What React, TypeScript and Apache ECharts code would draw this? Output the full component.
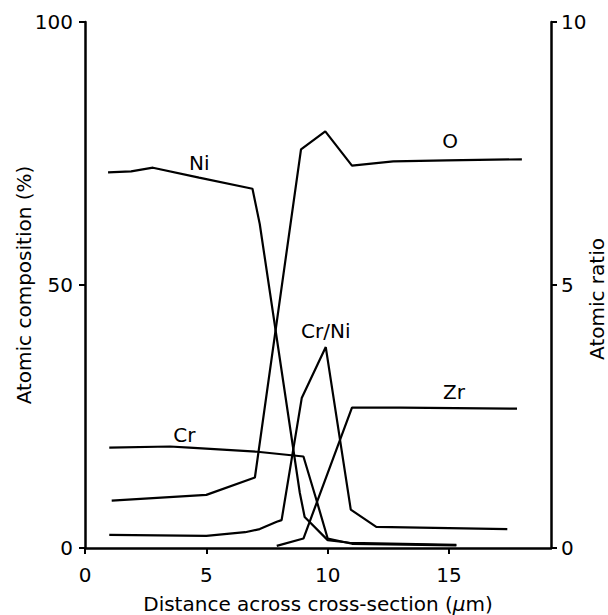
import React, { useEffect, useRef } from "react";
import * as echarts from "echarts";

// Atomic composition (%) vs distance (µm)
const niData: number[][] = [
  [0.95, 71.4], [1.9, 71.6], [2.8, 72.3], [4.7, 70.4], [6.9, 68.3], [7.2, 61.6],
  [8.85, 10.5], [9.05, 5.9], [10, 1.5], [10.9, 1.0], [15.3, 0.6],
];
const oData: number[][] = [
  [1.1, 9.0], [5, 10.1], [7, 13.4], [8.9, 75.8], [9.9, 79.2], [11, 72.7],
  [12.7, 73.5], [14.9, 73.7], [18, 73.9],
];
const crData: number[][] = [
  [1, 19.1], [3.5, 19.3], [4.3, 19.1], [7.1, 18.3], [9, 17.4], [9.5, 9.7],
  [10, 1.8], [11, 0.8], [15.3, 0.5],
];
const zrData: number[][] = [
  [7.9, 0.4], [9, 1.8], [11, 26.7], [13, 26.7], [17.8, 26.5],
];
// Atomic ratio (right axis)
const crNiRatio: number[][] = [
  [1, 0.25], [5, 0.23], [6.6, 0.3], [7.2, 0.36], [7.9, 0.5], [8.1, 0.53],
  [8.93, 2.85], [9.92, 3.82], [10.95, 0.73], [12, 0.4], [17.4, 0.36],
];
// Curve labels [x, y(left axis), text]
const curveLabels: (number | string)[][] = [
  [4.71, 73.1, "Ni"],
  [15.04, 77.3, "O"],
  [4.09, 21.4, "Cr"],
  [9.92, 41.2, "Cr/Ni"],
  [15.2, 29.6, "Zr"],
];
const xTicks = [0, 5, 10, 15];
const leftTicks = [0, 50, 100];
const rightTicks = [0, 5, 10];

const FONT = "DejaVu Sans";
const BLACK = "#000";

export default function App() {
  const ref = useRef<HTMLDivElement>(null);
  useEffect(() => {
    const chart = echarts.init(ref.current!, null, { renderer: "svg" });
    const lineStyle = { color: BLACK, width: 2.2 };
    const mkLine = (name: string, data: number[][], yAxisIndex = 0) => ({
      type: "line",
      name,
      data,
      yAxisIndex,
      symbol: "none",
      lineStyle,
      silent: true,
      z: 3,
    });
    const axisCommon = {
      axisLine: { show: true, lineStyle: { color: BLACK, width: 2.5 } },
      axisTick: { show: true, length: 6, lineStyle: { color: BLACK, width: 2 } },
      splitLine: { show: false },
      nameMoveOverlap: false,
      nameTextStyle: { fontFamily: FONT, fontSize: 20, lineHeight: 22, color: BLACK },
    };
    chart.setOption({
      animation: false,
      backgroundColor: "#fff",
      grid: { left: 85, right: 57, top: 22, bottom: 67, containLabel: false, outerBoundsMode: "none" },
      xAxis: {
        type: "value",
        min: 0,
        max: 19.2,
        interval: 5,
        ...axisCommon,
        axisTick: { ...axisCommon.axisTick, customValues: xTicks },
        axisLabel: {
          customValues: xTicks,
          fontFamily: FONT,
          fontSize: 20,
          color: BLACK,
          margin: 17,
        },
        name: "Distance across cross-section ({i|μ}m)",
        nameLocation: "middle",
        nameGap: 45,
        nameTextStyle: {
          fontFamily: FONT,
          fontSize: 20,
          lineHeight: 22,
          color: BLACK,
          rich: { i: { fontFamily: FONT, fontSize: 20, lineHeight: 22, fontStyle: "italic", color: BLACK } },
        },
      },
      yAxis: [
        {
          type: "value",
          position: "left",
          min: 0,
          max: 100,
          interval: 50,
          ...axisCommon,
          axisTick: { ...axisCommon.axisTick, customValues: leftTicks },
          axisLabel: { customValues: leftTicks, fontFamily: FONT, fontSize: 20, color: BLACK, margin: 12 },
          name: "Atomic composition (%)",
          nameLocation: "middle",
          nameRotate: 90,
          nameGap: 50,
        },
        {
          type: "value",
          position: "right",
          min: 0,
          max: 10,
          interval: 5,
          ...axisCommon,
          axisTick: { ...axisCommon.axisTick, customValues: rightTicks },
          axisLabel: { customValues: rightTicks, fontFamily: FONT, fontSize: 20, color: BLACK, margin: 10 },
          name: "Atomic ratio",
          nameLocation: "middle",
          nameRotate: 90,
          nameGap: 35,
          nameTextStyle: { fontFamily: FONT, fontSize: 20, lineHeight: 22, color: BLACK, padding: [0, 28, 0, 0] },
        },
      ],
      series: [
        mkLine("Ni", niData),
        mkLine("O", oData),
        mkLine("Cr", crData),
        mkLine("Zr", zrData),
        mkLine("Cr/Ni", crNiRatio, 1),
        {
          type: "scatter",
          data: curveLabels,
          symbolSize: 0,
          silent: true,
          itemStyle: { color: BLACK, opacity: 1 },
          label: {
            show: true,
            position: "inside",
            formatter: (p: any) => String(p.data[2]),
            fontFamily: FONT,
            fontSize: 20,
            color: BLACK,
            opacity: 1,
            textBorderWidth: 0,
            align: "center",
            verticalAlign: "middle",
          },
        },
      ],
    });
    return () => chart.dispose();
  }, []);
  return (
    <div
      ref={ref}
      style={{ position: "absolute", left: 0, top: 0, width: 608, height: 615, background: "#fff" }}
    />
  );
}
